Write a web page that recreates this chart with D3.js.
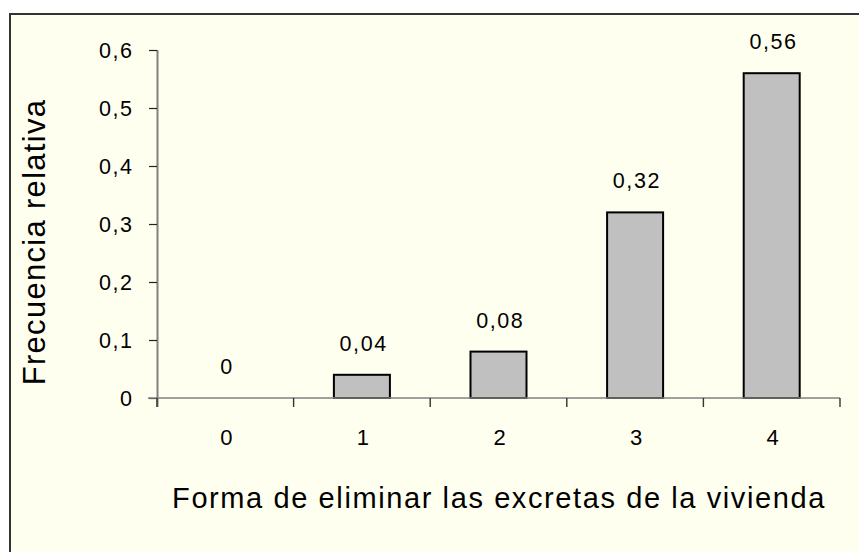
<!DOCTYPE html>
<html>
<head>
<meta charset="utf-8">
<script src="https://cdn.jsdelivr.net/npm/d3@7"></script>
<style>
  html, body { margin: 0; padding: 0; background: #ffffff; }
  svg { display: block; }
  text { font-family: "Liberation Sans", Arial, sans-serif; fill: #000; }
</style>
</head>
<body>
<svg id="chart" width="859" height="552"></svg>
<script>
// ---- data ----
const categories = ["0", "1", "2", "3", "4"];
const values = [0, 0.04, 0.08, 0.32, 0.56];
const yTicks = [0, 0.1, 0.2, 0.3, 0.4, 0.5, 0.6];
const xTitle = "Forma de eliminar las excretas de la vivienda";
const yTitle = "Frecuencia relativa";

const svg = d3.select("#chart");
const W = 859, H = 552;
const plot = { left: 157, right: 840, top: 50, bottom: 398 };

const fmt = v => v === 0 ? "0" : String(+v.toFixed(2)).replace(".", ",");

// background panel with top/left border
svg.append("rect")
  .attr("x", 10).attr("y", 14)
  .attr("width", W + 10).attr("height", H + 10)
  .attr("fill", "#FFFFF0")
  .attr("stroke", "#333333").attr("stroke-width", 2);

const x = d3.scaleBand()
  .domain(categories)
  .range([plot.left, plot.right])
  .paddingInner(0.59)
  .paddingOuter(0.295);

const y = d3.scaleLinear()
  .domain([0, 0.6])
  .range([plot.bottom, plot.top]);

// bars
svg.append("g").selectAll("rect")
  .data(values)
  .join("rect")
  .attr("x", (d, i) => x(categories[i]))
  .attr("y", d => y(d))
  .attr("width", x.bandwidth())
  .attr("height", d => y(0) - y(d))
  .attr("fill", "#C0C0C0")
  .attr("stroke", "#000")
  .attr("stroke-width", 2)
  .attr("display", d => d === 0 ? "none" : null);

const LS = 1.6;

// y axis
const yAxis = svg.append("g")
  .attr("transform", `translate(${plot.left},0)`)
  .call(d3.axisLeft(y).tickValues(yTicks).tickFormat(fmt).tickSize(8).tickPadding(17));
yAxis.select(".domain").attr("stroke", "#808080").attr("stroke-width", 2).attr("d", `M0.5,${plot.top}V${plot.bottom + 9}`);
yAxis.selectAll(".tick line").attr("stroke", "#222").attr("stroke-width", 1.2);
yAxis.selectAll(".tick text")
  .attr("font-size", 21.5).attr("letter-spacing", LS + "px")
  .attr("dx", LS + "px").attr("dy", "0.36em")
  .attr("fill", "#000");

// x axis: line + ticks at band boundaries
const step = x.step();
const boundaries = d3.range(categories.length + 1).map(i => plot.left + i * step);
const xAxis = svg.append("g");
xAxis.append("line")
  .attr("x1", plot.left - 9).attr("x2", plot.right)
  .attr("y1", plot.bottom).attr("y2", plot.bottom)
  .attr("stroke", "#808080").attr("stroke-width", 1.6);
xAxis.selectAll("line.tk")
  .data(boundaries)
  .join("line")
  .attr("class", "tk")
  .attr("x1", d => d).attr("x2", d => d)
  .attr("y1", plot.bottom).attr("y2", plot.bottom + 9)
  .attr("stroke", "#333").attr("stroke-width", 1.4);

xAxis.selectAll("text")
  .data(categories)
  .join("text")
  .attr("x", d => x(d) + x.bandwidth() / 2 + 1)
  .attr("y", 445)
  .attr("text-anchor", "middle")
  .attr("font-size", 22)
  .text(d => d);

// value labels
svg.append("g").selectAll("text")
  .data(values)
  .join("text")
  .attr("x", (d, i) => x(categories[i]) + x.bandwidth() / 2 + 1 + LS / 2)
  .attr("y", d => y(d) - 24)
  .attr("text-anchor", "middle")
  .attr("font-size", 21.5)
  .attr("letter-spacing", LS + "px")
  .text(d => fmt(d));

// x title
svg.append("text")
  .attr("x", 499)
  .attr("y", 508)
  .attr("text-anchor", "middle")
  .attr("font-size", 29)
  .attr("letter-spacing", "1.6px")
  .text(xTitle);

// y title
svg.append("text")
  .attr("transform", "translate(45,242) rotate(-90)")
  .attr("text-anchor", "middle")
  .attr("font-size", 31)
  .attr("letter-spacing", "1.3px")
  .text(yTitle);
</script>
</body>
</html>
